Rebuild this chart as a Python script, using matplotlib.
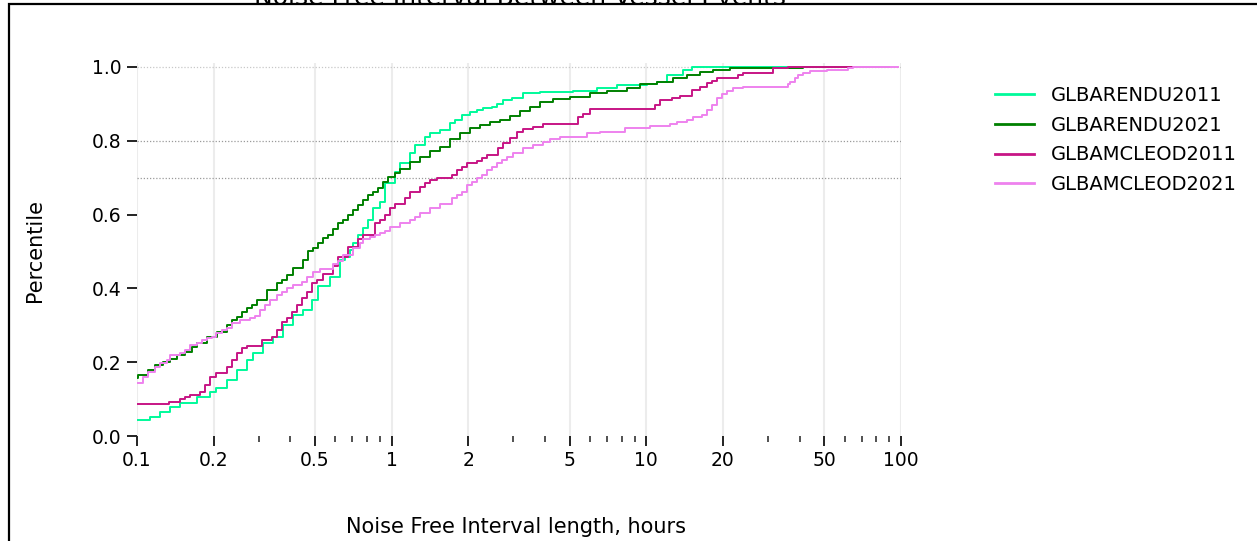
import matplotlib
matplotlib.use("Agg")
import matplotlib.pyplot as plt
from matplotlib.ticker import FixedLocator, FixedFormatter, NullFormatter
from matplotlib.patches import Rectangle

title = "Noise Free Interval Between Vessel Events"
xlabel = "Noise Free Interval length, hours"
ylabel = "Percentile"
series_names = ["GLBARENDU2011", "GLBARENDU2021", "GLBAMCLEOD2011", "GLBAMCLEOD2021"]
series_colors = ["mediumspringgreen", "green", "mediumvioletred", "violet"]

arendu2011_hours = [0.1, 0.1125, 0.1231, 0.1348, 0.1475, 0.172, 0.1935, 0.2043, 0.2251, 0.2464,
                    0.2697, 0.2855, 0.3125, 0.342, 0.3744, 0.41, 0.4486, 0.4853, 0.5137, 0.5728,
                    0.6269, 0.6557, 0.6862, 0.705, 0.7376, 0.7717, 0.8074, 0.8448, 0.90, 0.9415,
                    1.031, 1.078, 1.18, 1.235, 1.352, 1.414, 1.548, 1.695, 1.773, 1.884,
                    2.03, 2.157, 2.284, 2.471, 2.585, 2.744, 2.96, 3.28, 3.823, 5.152,
                    6.385, 7.648, 10.03, 10.98, 12.02, 13.93, 15.07, 80]
arendu2011_pct = [.043, .052, .066, .079, .089, .107, .12, .129, .152, .179,
                  .206, .224, .251, .269, .30, .328, .341, .369, .407, .432,
                  .477, .486, .504, .523, .545, .564, .585, .617, .635, .686,
                  .716, .739, .767, .789, .811, .82, .829, .847, .856, .87,
                  .879, .883, .888, .892, .901, .911, .915, .929, .931, .936,
                  .942, .951, .954, .959, .978, .992, 1.0, 1.0]

arendu2021_hours = [0.1, 0.101, 0.1105, 0.1177, 0.1265, 0.1348, 0.1432, 0.1544, 0.164, 0.1716,
                    0.1878, 0.2056, 0.2251, 0.2355, 0.2464, 0.2577, 0.2697, 0.2821, 0.2951, 0.3231,
                    0.3537, 0.37, 0.3871, 0.411, 0.4498, 0.4706, 0.4925, 0.5151, 0.5389, 0.564,
                    0.59, 0.6172, 0.6458, 0.6756, 0.7068, 0.7396, 0.7737, 0.8094, 0.8471, 0.8862,
                    0.9271, 0.9701, 1.031, 1.078, 1.18, 1.292, 1.414, 1.548, 1.695, 1.855,
                    2.03, 2.223, 2.433, 2.664, 2.915, 3.191, 3.493, 3.823, 4.313, 5.015,
                    6.009, 6.988, 8.374, 9.443, 10.98, 12.76, 14.4, 16.25, 18.32, 21.3,
                    41.33, 85]
arendu2021_pct = [.156, .165, .179, .192, .201, .21, .22, .228, .242, .251,
                  .269, .283, .301, .314, .323, .337, .346, .355, .369, .396,
                  .414, .423, .436, .454, .477, .5, .509, .522, .536, .545,
                  .56, .576, .585, .599, .612, .626, .64, .653, .662, .671,
                  .689, .703, .712, .724, .742, .755, .771, .784, .804, .82,
                  .834, .843, .852, .856, .868, .881, .892, .904, .912, .92,
                  .929, .936, .944, .954, .96, .97, .978, .987, .992, .997,
                  1.0, 1.0]

mcleod2011_hours = [0.1, 0.1337, 0.1475, 0.1544, 0.1615, 0.1768, 0.1849, 0.1935, 0.2043, 0.2251,
                    0.2355, 0.2464, 0.2577, 0.2697, 0.3088, 0.338, 0.3537, 0.37, 0.3871, 0.4052,
                    0.4239, 0.4434, 0.4639, 0.4853, 0.5077, 0.5389, 0.59, 0.6172, 0.6756, 0.7396,
                    0.7737, 0.8601, 0.90, 0.9415, 0.985, 1.031, 1.128, 1.18, 1.292, 1.352,
                    1.414, 1.502, 1.721, 1.80, 1.884, 1.971, 2.157, 2.257, 2.361, 2.623,
                    2.744, 2.915, 3.097, 3.288, 3.599, 3.939, 5.405, 5.655, 6.009, 10.81,
                    11.31, 12.58, 13.56, 15.07, 16.25, 17.26, 18.06, 18.9, 22.97, 24.03,
                    31.51, 36.1, 90]
mcleod2011_pct = [.087, .093, .099, .107, .111, .12, .138, .161, .17, .188,
                  .206, .224, .238, .244, .26, .269, .287, .31, .319, .337,
                  .355, .373, .391, .414, .423, .44, .46, .484, .511, .533,
                  .545, .576, .585, .599, .617, .63, .644, .662, .676, .685,
                  .694, .699, .707, .721, .73, .739, .744, .753, .762, .78,
                  .793, .808, .825, .832, .837, .845, .865, .873, .885, .897,
                  .911, .915, .922, .938, .947, .956, .962, .971, .978, .983,
                  .997, 1.0, 1.0]

mcleod2021_hours = [0.1, 0.1059, 0.1108, 0.1177, 0.1231, 0.1308, 0.1348, 0.1475, 0.1544, 0.1615,
                    0.1716, 0.1796, 0.1878, 0.1966, 0.2043, 0.2151, 0.2251, 0.2355, 0.2538, 0.2778,
                    0.2907, 0.3041, 0.3183, 0.333, 0.3537, 0.37, 0.3871, 0.411, 0.4434, 0.4639,
                    0.4925, 0.5231, 0.59, 0.6172, 0.6458, 0.7068, 0.7509, 0.7737, 0.822, 0.8601,
                    0.90, 0.9415, 0.985, 1.078, 1.18, 1.235, 1.292, 1.414, 1.548, 1.721,
                    1.80, 1.884, 1.971, 2.062, 2.157, 2.257, 2.361, 2.471, 2.585, 2.704,
                    2.829, 3.004, 3.288, 3.599, 3.939, 4.184, 4.581, 5.832, 6.577, 8.246,
                    10.34, 12.39, 13.16, 14.4, 15.29, 16.5, 17.26, 18.06, 18.9, 19.77,
                    20.69, 21.95, 24.03, 27.94, 36.1, 36.66, 38.36, 39.52, 41.33, 43.91,
                    51.06, 62.09, 64.95, 97]
mcleod2021_pct = [.143, .161, .174, .188, .199, .206, .22, .226, .233, .247,
                  .251, .26, .265, .269, .278, .287, .292, .305, .314, .319,
                  .325, .341, .355, .369, .382, .391, .4, .409, .418, .432,
                  .445, .452, .466, .475, .49, .51, .522, .534, .54, .545,
                  .549, .556, .567, .576, .585, .594, .603, .617, .63, .644,
                  .653, .662, .68, .689, .699, .707, .721, .73, .739, .748,
                  .757, .766, .78, .789, .798, .804, .81, .82, .825, .834,
                  .839, .845, .85, .856, .865, .87, .883, .897, .915, .926,
                  .935, .942, .945, .947, .953, .959, .97, .977, .985, .989,
                  .992, .997, 1.0, 1.0]

major_ticks = [0.1, 0.2, 0.5, 1, 2, 5, 10, 20, 50, 100]
major_labels = ["0.1", "0.2", "0.5", "1", "2", "5", "10", "20", "50", "100"]
minor_ticks = [0.3, 0.4, 0.6, 0.7, 0.8, 0.9, 3, 4, 6, 7, 8, 9, 30, 40, 60, 70, 80, 90]
y_ticks = [0.0, 0.2, 0.4, 0.6, 0.8, 1.0]
y_labels = ["0.0", "0.2", "0.4", "0.6", "0.8", "1.0"]
ref_lines = [0.7, 0.8]
top_line = 1.0

W, H = 1257, 541
fig = plt.figure(figsize=(W / 100, H / 100), dpi=100)
fig.patch.set_facecolor("white")
ax = fig.add_axes([137 / W, 1 - 436 / H, 764 / W, (436 - 63.3) / H])

series = [
    (arendu2011_hours, arendu2011_pct),
    (arendu2021_hours, arendu2021_pct),
    (mcleod2011_hours, mcleod2011_pct),
    (mcleod2021_hours, mcleod2021_pct),
]

for v in ref_lines:
    ax.axhline(v, color="#9a9a9a", linestyle=(0, (1, 1.5)), linewidth=0.9, zorder=1)
ax.axhline(top_line, color="#c8c8c8", linestyle=(0, (1, 1.5)), linewidth=0.9, zorder=1)

for (xs, ys), name, col in zip(series, series_names, series_colors):
    ax.step(xs, ys, where="post", color=col, linewidth=1.4, label=name, zorder=3)

ax.set_xscale("log")
ax.set_xlim(0.1, 100)
ax.set_ylim(0, 1.01)
ax.xaxis.set_major_locator(FixedLocator(major_ticks))
ax.xaxis.set_major_formatter(FixedFormatter(major_labels))
ax.xaxis.set_minor_locator(FixedLocator(minor_ticks))
ax.xaxis.set_minor_formatter(NullFormatter())
ax.set_yticks(y_ticks)
ax.set_yticklabels(y_labels)

ax.grid(True, axis="x", which="major", color="#ececec", linewidth=1.5, zorder=0)
ax.set_axisbelow(True)
for s in ax.spines.values():
    s.set_visible(False)

ax.tick_params(axis="both", which="major", direction="out", length=7, width=1.4,
               color="#222222", labelsize=13.5, pad=4)
ax.tick_params(axis="x", which="minor", direction="out", length=4, width=1.1, color="#222222")

fig.text(516 / W, 1 - 527 / H, xlabel, ha="center", va="center", fontsize=15)
fig.text(35 / W, 1 - 250 / H, ylabel, ha="center", va="center", rotation=90, fontsize=15)
fig.text(520 / W, 1 - 5 / H, title, ha="center", va="baseline", fontsize=18)

leg = fig.legend(loc="center left", bbox_to_anchor=(995 / W, 1 - 140 / H),
                 bbox_transform=fig.transFigure, frameon=False, fontsize=14,
                 handlelength=2.0, handletextpad=0.85, labelspacing=0.55,
                 borderpad=0, borderaxespad=0)
for line in leg.get_lines():
    line.set_linewidth(2.0)

fig.add_artist(Rectangle((8.5 / W, -0.5), 2.0, 1.5 - 3.5 / H, transform=fig.transFigure,
                         fill=False, edgecolor="black", linewidth=1.6))

fig.savefig("out.png", dpi=100)
